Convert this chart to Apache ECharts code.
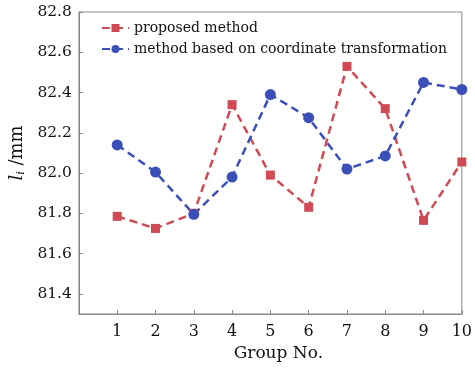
<!DOCTYPE html>
<html><head><meta charset="utf-8">
<script src="https://cdn.jsdelivr.net/npm/echarts@6/dist/echarts.min.js"></script>
<style>html,body{margin:0;padding:0;background:#fff}#c{width:475px;height:369px}</style>
</head><body><div id="c"></div>
<script>
const groups = [1,2,3,4,5,6,7,8,9,10];
const proposed = [81.785, 81.725, 81.80, 82.34, 81.99, 81.83, 82.53, 82.32, 81.765, 82.055];
const coordTrans = [82.14, 82.005, 81.795, 81.98, 82.39, 82.275, 82.02, 82.085, 82.45, 82.415];
const seriesNames = ['proposed method', 'method based on coordinate transformation'];
const yTicks = [81.4, 81.6, 81.8, 82.0, 82.2, 82.4, 82.6, 82.8];

const FONT = 'DejaVu Serif';
const chart = echarts.init(document.getElementById('c'), null, {renderer:'canvas'});
chart.setOption({
  animation:false,
  backgroundColor:'#fff',
  textStyle:{fontFamily:FONT},
  grid:{left:76, right:13, top:12, bottom:55, show:true, borderColor:'#8a8a8a', borderWidth:1},
  legend:{
    left:96, top:16, orient:'vertical', itemGap:7, itemWidth:27, itemHeight:10,
    textStyle:{fontFamily:FONT, fontSize:14, color:'#111'},
    data:seriesNames
  },
  xAxis:{
    type:'value', min:0, max:10, interval:1,
    name:'Group No.', nameLocation:'middle', nameGap:27,
    nameTextStyle:{fontFamily:FONT, fontSize:17, color:'#111', padding:[0,0,0,16]},
    axisLine:{show:true, lineStyle:{color:'#8a8a8a'}},
    axisTick:{show:true, inside:true, length:4, lineStyle:{color:'#8a8a8a'}},
    splitLine:{show:false},
    axisLabel:{fontFamily:FONT, fontSize:16, color:'#111', margin:10,
      formatter:v => (groups.indexOf(v) >= 0 ? String(v) : '')}
  },
  yAxis:{
    type:'value', min:81.3, max:82.8, splitNumber:7,
    name:'{it|l}{sub|i} /mm', nameLocation:'middle', nameGap:46,
    nameTextStyle:{fontFamily:FONT, fontSize:18, color:'#111', padding:[0,0,0,20],
      rich:{it:{fontStyle:'italic', fontFamily:FONT, fontSize:18, color:'#111'},
            sub:{fontStyle:'italic', fontFamily:FONT, fontSize:11, color:'#111', verticalAlign:'bottom', padding:[8,0,0,0]}}},
    axisLine:{show:true, lineStyle:{color:'#8a8a8a'}},
    axisTick:{show:true, inside:true, length:4, lineStyle:{color:'#8a8a8a'}},
    splitLine:{show:false},
    axisLabel:{fontFamily:FONT, fontSize:15.5, color:'#111', margin:7,
      formatter:v => { const f = yTicks.find(t => Math.abs(t - v) < 1e-6); return f !== undefined ? f.toFixed(1) : ''; }}
  },
  series:[
    {name:seriesNames[0], type:'line', data:groups.map((g,i)=>[g, proposed[i]]),
     symbol:'rect', symbolSize:9, color:'#cf4a55',
     lineStyle:{type:[8,5], width:2.5, color:'#cf4a55'}, itemStyle:{color:'#cf4a55'}},
    {name:seriesNames[1], type:'line', data:groups.map((g,i)=>[g, coordTrans[i]]),
     symbol:'circle', symbolSize:11, color:'#3b4fb8',
     lineStyle:{type:[8,5], width:2.5, color:'#3b4fb8'}, itemStyle:{color:'#3b4fb8'}}
  ]
});
</script></body></html>
